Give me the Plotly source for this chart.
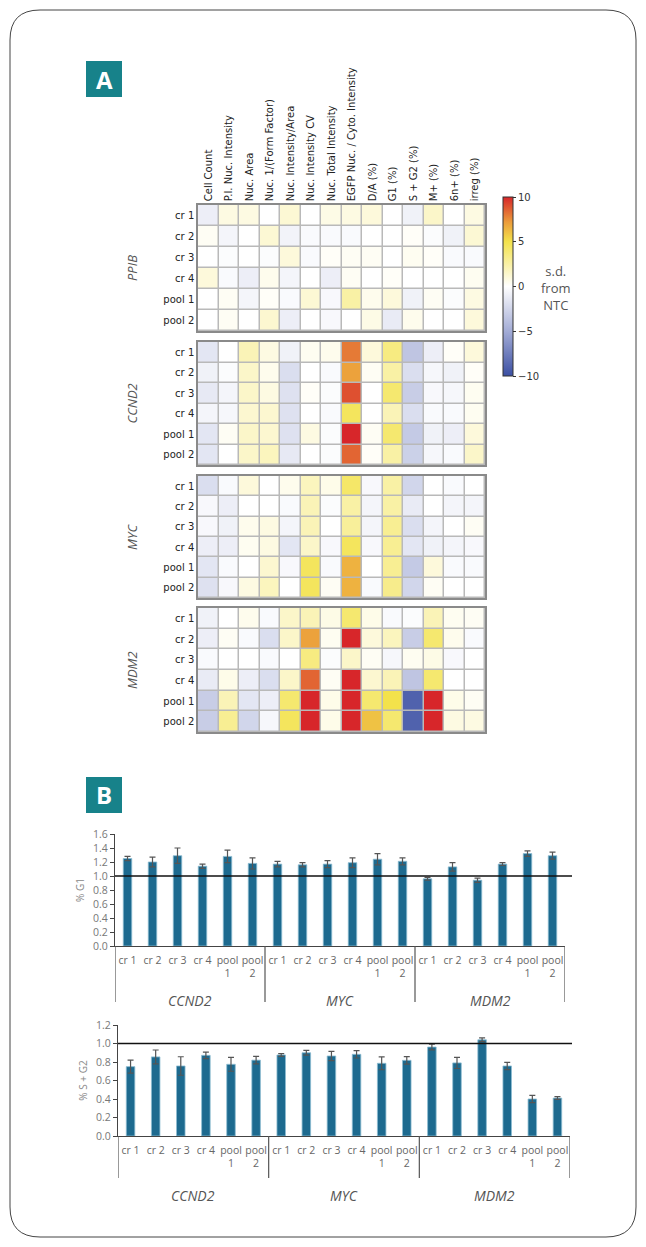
import plotly.graph_objects as go

W, H = 646, 1247

def X(px):
    return px / W

def Y(py):
    return 1 - py / H

# ---------------- data ----------------
features = ["Cell Count", "P.I. Nuc. Intensity", "Nuc. Area", "Nuc. 1/(Form Factor)",
            "Nuc. Intensity/Area", "Nuc. Intensity CV", "Nuc. Total Intensity",
            "EGFP Nuc. / Cyto. Intensity", "D/A (%)", "G1 (%)", "S + G2 (%)",
            "M+ (%)", "6n+ (%)", "irreg (%)"]
samples = ["cr 1", "cr 2", "cr 3", "cr 4", "pool 1", "pool 2"]
heat_genes = ["PPIB", "CCND2", "MYC", "MDM2"]

ppib_z = [
    [-1.0, 0.8, 0.8, 0.0, 1.2, 0.0, 0.7, 0.8, 1.0, 0.0, -0.8, 1.5, 0.0, 0.8],
    [0.3, -0.6, 0.0, 1.2, -0.7, -0.3, -0.3, -0.3, 0.0, 0.0, 0.2, -0.2, -0.8, 1.2],
    [0.0, -0.2, 0.0, -0.2, 1.0, -0.3, 0.2, 0.3, 0.3, 0.0, 0.4, 0.2, -0.3, -0.3],
    [1.0, -0.3, -1.0, 0.5, -0.6, 0.0, -1.0, 0.3, 0.0, 0.2, 0.0, 0.0, 0.0, 0.4],
    [0.0, 0.3, -0.6, 0.2, -0.3, 1.2, -0.4, 2.5, 0.5, 1.0, -0.8, 0.3, -0.2, 0.8],
    [0.0, 0.3, 0.0, 1.3, -1.0, 0.0, -0.4, 0.0, 0.7, -1.2, 0.5, 0.0, 0.0, 1.0],
]
ccnd2_z = [
    [-1.5, 0.0, 2.0, 0.8, -0.8, 0.4, 0.5, 8.0, 1.0, 3.5, -3.5, -1.0, 0.2, 1.0],
    [-0.8, -0.2, 1.5, 0.5, -2.0, 0.0, -0.3, 7.0, 0.3, 2.5, -2.0, -0.5, -0.8, 0.2],
    [-1.3, -0.6, 1.5, 0.8, -1.8, 0.2, -0.2, 9.0, 0.0, 4.0, -3.0, -0.4, -0.5, 0.4],
    [-0.6, -0.5, 1.3, 1.3, -1.8, 0.0, -0.3, 4.5, 0.0, 2.0, -2.0, -0.3, -0.3, 0.4],
    [-1.5, 0.3, 1.5, 1.3, -1.8, 0.8, -0.2, 10.0, 0.3, 4.0, -3.2, -0.8, -1.0, 1.0],
    [-1.5, 0.0, 1.5, 1.8, -1.3, 0.0, -0.2, 8.5, 0.2, 2.5, -2.8, -0.5, -0.3, 1.5],
]
myc_z = [
    [-2.0, -0.3, 1.0, 0.0, 0.5, 1.8, 0.6, 4.2, -0.4, 2.5, -2.5, 0.0, -0.3, 0.0],
    [-0.4, -1.0, 0.0, 0.0, -0.3, 2.0, -0.2, 2.5, -0.6, 2.5, -1.2, 0.0, -0.6, -0.6],
    [-0.4, -0.8, 0.5, 0.8, -0.6, 2.0, 0.0, 2.8, -0.6, 3.0, -2.0, -0.6, 0.0, 0.3],
    [-1.0, -1.0, 0.4, 0.8, -1.5, 1.5, -0.4, 4.5, -0.4, 3.0, -1.5, -0.8, -0.6, -0.4],
    [-1.5, -0.3, 0.0, 1.3, -0.4, 4.5, -0.3, 6.5, 0.0, 3.0, -3.2, 1.0, -0.3, -0.3],
    [-1.8, -0.4, 0.8, 1.8, 0.0, 4.5, 0.3, 6.5, -0.3, 3.2, -2.5, 0.3, 0.0, 0.0],
]
mdm2_z = [
    [-0.8, 0.0, 0.5, -0.3, 1.5, 2.0, 0.7, 4.0, 0.6, -0.3, -0.2, 2.0, 0.4, 0.3],
    [-1.0, 0.3, -0.3, -2.0, 1.5, 7.0, 0.4, 10.0, 1.0, 1.8, -3.0, 4.0, 0.5, -0.3],
    [-0.3, 0.0, 0.0, -0.3, 0.0, 3.5, -0.2, 1.5, 0.3, -0.5, 0.4, 0.7, -0.4, 0.0],
    [-1.2, 0.6, -1.0, -2.0, 1.5, 8.5, 0.3, 10.0, 1.3, 2.0, -3.5, 4.0, 0.0, 0.0],
    [-3.0, 2.0, -1.5, -1.0, 4.0, 10.0, 0.6, 10.0, 4.0, 5.0, -9.0, 10.0, 0.6, 0.3],
    [-3.0, 3.0, -2.5, -0.5, 4.5, 10.0, 0.6, 10.0, 6.0, 4.0, -9.0, 10.0, 0.8, 0.8],
]
heat_data = [ppib_z, ccnd2_z, myc_z, mdm2_z]
cbar_ticks = [-10, -5, 0, 5, 10]

bar_genes = ["CCND2", "MYC", "MDM2"]
bar_labels = ["cr 1", "cr 2", "cr 3", "cr 4", "pool<br>1", "pool<br>2"]
g1_vals = [1.25, 1.20, 1.29, 1.14, 1.28, 1.18,
           1.17, 1.16, 1.17, 1.19, 1.24, 1.21,
           0.96, 1.13, 0.94, 1.17, 1.32, 1.29]
g1_err = [0.03, 0.07, 0.11, 0.03, 0.09, 0.08,
          0.04, 0.03, 0.05, 0.07, 0.08, 0.05,
          0.02, 0.06, 0.03, 0.02, 0.04, 0.05]
sg2_vals = [0.75, 0.855, 0.757, 0.872, 0.775, 0.82,
            0.876, 0.90, 0.865, 0.883, 0.786, 0.818,
            0.962, 0.79, 1.04, 0.757, 0.40, 0.41]
sg2_err = [0.07, 0.075, 0.10, 0.035, 0.075, 0.04,
           0.015, 0.025, 0.05, 0.04, 0.07, 0.04,
           0.03, 0.06, 0.02, 0.04, 0.04, 0.015]

# ---------------- style ----------------
colorscale = [[0.0, "#3b4fa3"], [0.25, "#a3acd6"], [0.5, "#ffffff"],
              [0.75, "#f3e24b"], [0.86, "#eb9c3b"], [1.0, "#d7262a"]]
teal = "#17828a"
bar_color = "#1d6a8f"
heat_font = "DejaVu Sans"
bar_font = "Open Sans"

fig = go.Figure()
layout = dict(width=W, height=H, margin=dict(l=0, r=0, t=0, b=0, autoexpand=False),
              paper_bgcolor="white", plot_bgcolor="white", showlegend=False)
shapes = []
annotations = []

def ann(**kw):
    d = dict(showarrow=False, xanchor="center", yanchor="middle")
    d.update(kw)
    annotations.append(d)

# heatmap block positions (pixel rows)
blocks = [(205, 331), (342, 465), (476, 598), (608, 732)]
hx0, hx1 = 198, 485

for i, (gene, z) in enumerate(zip(heat_genes, heat_data)):
    n = i + 1
    xa = "x" if n == 1 else f"x{n}"
    ya = "y" if n == 1 else f"y{n}"
    tr = go.Heatmap(z=z, x=features, y=samples, zmin=-10, zmax=10,
                    colorscale=colorscale, xgap=1.5, ygap=1.5,
                    xaxis=xa, yaxis=ya, showscale=(n == 1), hoverinfo="skip")
    if n == 1:
        tr.colorbar = dict(x=X(503), xanchor="left", xpad=0, ypad=0,
                           y=Y(286.5), yanchor="middle", len=179, lenmode="pixels",
                           thickness=10, outlinecolor="#333", outlinewidth=1,
                           ticks="outside", ticklen=3, tickcolor="#333",
                           tickvals=cbar_ticks,
                           ticktext=[str(v).replace("-", "\u2212") for v in cbar_ticks],
                           tickfont=dict(family=heat_font, size=10, color="#333"))
    fig.add_trace(tr)
    top, bot = blocks[i]
    layout[f"xaxis{n if n > 1 else ''}"] = dict(
        domain=[X(hx0), X(hx1)], anchor=ya, type="category", automargin=False,
        side="top", tickangle=-90, showticklabels=(n == 1),
        tickfont=dict(family=heat_font, size=10, color="#222"),
        ticks="", showgrid=False, zeroline=False,
        showline=True, mirror=True, linecolor="#8a8a8a", linewidth=1.5)
    layout[f"yaxis{n if n > 1 else ''}"] = dict(
        domain=[Y(bot), Y(top)], anchor=xa, type="category", automargin=False,
        autorange="reversed", tickfont=dict(family=heat_font, size=10, color="#222"),
        ticks="", showgrid=False, zeroline=False,
        showline=True, mirror=True, linecolor="#8a8a8a", linewidth=1.5)
    shapes.append(dict(type="rect", xref=f"{xa} domain", yref=f"{ya} domain",
                       x0=0, x1=1, y0=0, y1=1, fillcolor="#b9b9b9",
                       line=dict(width=0), layer="below"))
    ann(text=f"<i>{gene}</i>", x=X(132), y=Y((top + bot) / 2),
        xref="paper", yref="paper", textangle=-90,
        font=dict(family=bar_font, size=13, color="#555"))

ann(text="s.d.<br>from<br>NTC", x=X(556), y=Y(288), xref="paper",
    yref="paper", align="center",
    font=dict(family=bar_font, size=13, color="#555"))

# ---------------- bar charts ----------------
xs = list(range(len(g1_vals)))
tick_text = bar_labels * 3
bar_specs = [
    dict(n=5, vals=g1_vals, err=g1_err, x0=115, x1=565, ytop=834, ybot=946,
         rng=[0, 1.6], title="% G1", cat_bottom=1002, gene_y=1000, line_x1=572),
    dict(n=6, vals=sg2_vals, err=sg2_err, x0=118, x1=570, ytop=1025, ybot=1136,
         rng=[0, 1.2], title="% S + G2", cat_bottom=1178, gene_y=1195, line_x1=572),
]
for s in bar_specs:
    n = s["n"]
    fig.add_trace(go.Bar(x=xs, y=s["vals"], width=0.34,
                         marker=dict(color=bar_color, line=dict(color="#8dbcd2", width=0.8)),
                         error_y=dict(type="data", array=s["err"], color="#555",
                                      thickness=1.2, width=3),
                         xaxis=f"x{n}", yaxis=f"y{n}", hoverinfo="skip"))
    layout[f"xaxis{n}"] = dict(domain=[X(s["x0"]), X(s["x1"])], anchor=f"y{n}",
                               automargin=False,
                               range=[-0.5, 17.5], tickvals=xs, ticktext=tick_text,
                               tickangle=0, ticks="", showgrid=False, zeroline=False,
                               showline=True, linecolor="#444", linewidth=1.2,
                               ticklabelstandoff=4,
                               tickfont=dict(family=bar_font, size=10.5, color="#666"))
    layout[f"yaxis{n}"] = dict(domain=[Y(s["ybot"]), Y(s["ytop"])], anchor=f"x{n}",
                               automargin=False,
                               range=s["rng"], dtick=0.2, tickformat=".1f",
                               ticks="outside", ticklen=4, tickcolor="#444",
                               showgrid=False, zeroline=False, showline=True,
                               linecolor="#444", linewidth=1.2,
                               tickfont=dict(family=bar_font, size=10.5, color="#777"),
                               title=dict(text=s["title"], standoff=6,
                                          font=dict(family=bar_font, size=10, color="#888")))
    for xv in [-0.5, 5.5, 11.5, 17.5]:
        shapes.append(dict(type="line", xref=f"x{n}", yref="paper", x0=xv, x1=xv,
                           y0=Y(s["ybot"]), y1=Y(s["cat_bottom"]),
                           line=dict(color="#555", width=1.2)))
    shapes.append(dict(type="line", xref="paper", yref=f"y{n}", x0=X(s["x0"]),
                       x1=X(s["line_x1"]), y0=1.0, y1=1.0,
                       line=dict(color="#111", width=1.5)))
    for gi, g in enumerate(bar_genes):
        ann(text=f"<i>{g}</i>", x=gi * 6 + 2.5, y=Y(s["gene_y"]),
            xref=f"x{n}", yref="paper",
            font=dict(family=bar_font, size=14, color="#555"))

# ---------------- panel labels ----------------
for letter, (bx, by) in [("A", (86, 61)), ("B", (86, 777))]:
    shapes.append(dict(type="rect", xref="paper", yref="paper", x0=X(bx), x1=X(bx + 36),
                       y0=Y(by + 36), y1=Y(by), fillcolor=teal, line=dict(width=0)))
    ann(text=f"<b>{letter}</b>", x=X(bx + 18), y=Y(by + 18),
        xref="paper", yref="paper",
        font=dict(family=bar_font, size=24, color="white"))

# ---------------- rounded frame ----------------
fx0, fy0, fx1, fy1, r = 10, 10, 636, 1237, 30
path = (f"M {X(fx0 + r)},{Y(fy0)} L {X(fx1 - r)},{Y(fy0)} "
        f"Q {X(fx1)},{Y(fy0)} {X(fx1)},{Y(fy0 + r)} "
        f"L {X(fx1)},{Y(fy1 - r)} Q {X(fx1)},{Y(fy1)} {X(fx1 - r)},{Y(fy1)} "
        f"L {X(fx0 + r)},{Y(fy1)} Q {X(fx0)},{Y(fy1)} {X(fx0)},{Y(fy1 - r)} "
        f"L {X(fx0)},{Y(fy0 + r)} Q {X(fx0)},{Y(fy0)} {X(fx0 + r)},{Y(fy0)} Z")
shapes.append(dict(type="path", xref="paper", yref="paper", path=path,
                   line=dict(color="#444", width=1)))

layout["shapes"] = shapes
layout["annotations"] = annotations
fig.update_layout(**layout)
fig.write_html("out.html", config={"displayModeBar": False},
               post_script="document.body.style.margin='0';"
                           "document.documentElement.style.overflow='hidden';")
